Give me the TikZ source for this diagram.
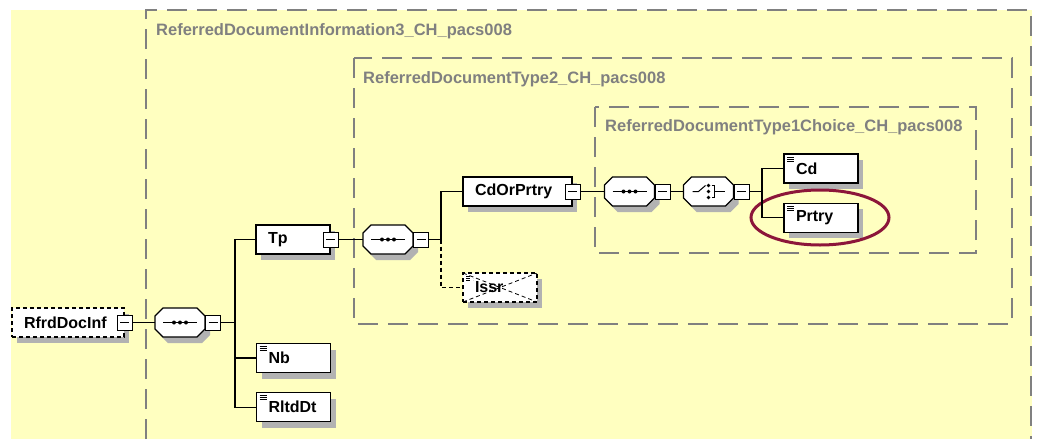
\documentclass[tikz,border=0pt]{standalone}
\usepackage{fontspec}
\setmainfont{Liberation Sans}
\usepackage{tikz}
\usetikzlibrary{shapes.geometric,shadows,positioning}
\definecolor{bgyellow}{RGB}{255,255,192}
\definecolor{framegray}{RGB}{128,128,128}
\definecolor{shadegray}{RGB}{178,178,178}
\definecolor{ovalred}{RGB}{140,22,58}
\newcommand{\elemicon}{%
	\foreach \dy in {3,5,7}
		\draw[line width=0.8pt] ([shift={(3pt,-\dy pt)}]path picture bounding box.north west) -- ++(7pt,0);}
% octagon of a compositor, round an empty node
\newcommand{\compshape}[1]{%
	\draw[octa]
		([xshift=8pt]#1.north west) -- ([xshift=-8pt]#1.north east) -- ([yshift=-8pt]#1.north east)
		-- ([yshift=8pt]#1.south east) -- ([xshift=-8pt]#1.south east) -- ([xshift=8pt]#1.south west)
		-- ([yshift=8pt]#1.south west) -- ([yshift=-8pt]#1.north west) -- cycle;}
\newcommand{\seqmark}[1]{%
	\draw[line width=1pt] ([xshift=-17pt]#1.center) -- ([xshift=17pt]#1.center);
	\foreach \dx in {-6,0,6}
		\fill[black] ([xshift=\dx pt]#1.center) circle[radius=2pt];}
\newcommand{\choicemark}[1]{%
	\draw[line width=1pt] ([xshift=-16pt]#1.center) -- ([xshift=-10pt]#1.center) -- ([shift={(-3pt,6pt)}]#1.center);
	\foreach \dy in {6,0,-6}
		\fill[black] ([yshift=\dy pt]#1.center) circle[radius=1.8pt];
	\draw[line width=1pt] ([shift={(3pt,6pt)}]#1.center) -- ([shift={(6pt,6pt)}]#1.center)
		-- ([shift={(6pt,-6pt)}]#1.center) -- ([shift={(3pt,-6pt)}]#1.center);
	\draw[line width=1pt] ([xshift=6pt]#1.center) -- ([xshift=16pt]#1.center);}
\tikzset{
	shade/.style = {drop shadow={shadow xshift=5pt, shadow yshift=-6pt, fill=shadegray, opacity=1}},
	base/.style = {
		draw,
		fill=white,
		line width=1.2pt,
		minimum height=29pt,
		inner sep=0pt,
		font=\fontsize{16}{19}\selectfont\bfseries,
		shade
	},
	cplx/.style = {
		base,
		inner xsep=12pt,
		align=left
	},
	elem/.style = {
		base,
		text width=50pt,
		inner xsep=12pt,
		align=left,
		path picture={\elemicon}
	},
	crossed/.style = {
		path picture={
			\elemicon
			\draw[line width=0.8pt] (path picture bounding box.north west) -- (path picture bounding box.south east);
			\draw[line width=0.8pt] (path picture bounding box.south west) -- (path picture bounding box.north east);
		}
	},
	opt/.style = {dash pattern=on 4pt off 3pt},
	minus/.style = {
		draw,
		fill=white,
		line width=1pt,
		minimum size=15pt,
		inner sep=0pt,
		path picture={
			\draw[line width=1pt] ([xshift=3pt]path picture bounding box.west) -- ([xshift=-3pt]path picture bounding box.east);
		}
	},
	comp/.style = {
		rectangle,
		minimum width=50pt,
		minimum height=29pt,
		inner sep=0pt,
		outer sep=0pt
	},
	octa/.style = {line width=1.2pt, fill=white, shade},
	grp/.style = {draw=framegray, line width=1.3pt, dash pattern=on 20pt off 10pt},
	grplabel/.style = {text=framegray, font=\fontsize{16.5}{19}\selectfont\bfseries, inner sep=0pt, anchor=base west},
	link/.style = {line width=1.2pt},
	hilite/.style = {ellipse, draw=ovalred, line width=3pt, minimum width=138pt, minimum height=55pt, inner sep=0pt}
}

\begin{document}
\begin{tikzpicture}[x=1pt,y=-1pt]
	\useasboundingbox (0,0) rectangle (1038,439);
	\fill[bgyellow] (11,10) rectangle (1032,439);

	% groups
	\draw[grp] (146,439) -- (146,10) -- (1031,10) -- (1031,439);
	\draw[grp] (354,58) rectangle (1012,324);
	\draw[grp] (595,107) rectangle (976,253);
	\node[grplabel] (lblinfo) at (156,35) {ReferredDocumentInformation3\_CH\_pacs008};
	\node[grplabel] (lbltype) at (363,83) {ReferredDocumentType2\_CH\_pacs008};
	\node[grplabel] (lblchoice) at (605,131) {ReferredDocumentType1Choice\_CH\_pacs008};

	% nodes
	\node[cplx, opt, text width=88pt] (rfrd) at (68,322.5) {RfrdDocInf};
	\node[minus] (rfrdm) at (rfrd.east) {};
	\node[comp] (seqa) at (180,322.5) {};
	\compshape{seqa}
	\seqmark{seqa}
	\node[minus, anchor=west] (seqam) at (seqa.east) {};

	\node[cplx, text width=50pt] (tp) at (293,239.5) {Tp};
	\node[minus] (tpm) at (tp.east) {};
	\node[elem] (nb) at (293.5,358) {Nb};
	\node[elem, below=19pt of nb] (rltd) {RltdDt};

	\node[comp] (seqb) at (388,239.5) {};
	\compshape{seqb}
	\seqmark{seqb}
	\node[minus, anchor=west] (seqbm) at (seqb.east) {};
	\node[cplx, text width=85pt] (cdor) at (517.5,191.5) {CdOrPrtry};
	\node[minus] (cdorm) at (cdor.east) {};
	\node[elem, opt, crossed] (issr) at (500,287.5) {Issr};

	\node[comp] (seqc) at (629.5,191.5) {};
	\compshape{seqc}
	\seqmark{seqc}
	\node[minus, anchor=west] (seqcm) at (seqc.east) {};
	\node[comp] (chc) at (708.5,191.5) {};
	\compshape{chc}
	\choicemark{chc}
	\node[minus, anchor=west] (chcm) at (chc.east) {};
	\node[elem] (cd) at (821,168.5) {Cd};
	\node[elem, below=19pt of cd] (prtry) {Prtry};

	\node[hilite] (mark) at (820,217.5) {};

	% connectors
	\coordinate (busa) at (235,322.5);
	\coordinate (busb) at (441,239.5);
	\coordinate (busc) at (762,191.5);
	\draw[link] (rfrdm.east) -- (seqa.west);
	\draw[link] (seqam.east) -- (busa);
	\draw[link] (tp.west) -| (busa) |- (rltd.west);
	\draw[link] (busa) |- (nb.west);
	\draw[link] (tpm.east) -- (seqb.west);
	\draw[link] (seqbm.east) -- (busb) |- (cdor.west);
	\draw[link, dash pattern=on 4pt off 3pt] (busb) |- (issr.west);
	\draw[link] (cdorm.east) -- (seqc.west);
	\draw[link] (seqcm.east) -- (chc.west);
	\draw[link] (chcm.east) -- (busc);
	\draw[link] (cd.west) -| (busc) |- (prtry.west);
\end{tikzpicture}
\end{document}
